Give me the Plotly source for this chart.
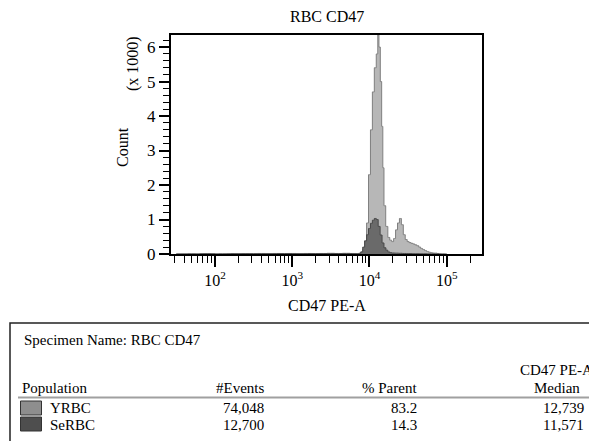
import plotly.graph_objects as go

# ---------------- data ----------------
# histogram bin centres (log10 of CD47 PE-A) and counts
yrbc_log = [1.5, 1.6, 1.7, 1.8, 1.9, 2.0, 2.1, 2.2, 2.3, 2.4, 2.5, 2.6, 2.7, 2.8, 2.9,
            3.0, 3.1, 3.2, 3.3, 3.4, 3.5, 3.6, 3.7, 3.8,
            3.850, 3.875, 3.900, 3.925, 3.950, 3.975, 4.000, 4.025, 4.050, 4.075,
            4.100, 4.115, 4.130, 4.150, 4.165, 4.180, 4.195, 4.225, 4.250, 4.275,
            4.300, 4.325, 4.350, 4.375, 4.400, 4.425, 4.450, 4.475, 4.500, 4.525,
            4.550, 4.575, 4.600, 4.625, 4.650, 4.675, 4.700, 4.725, 4.750, 4.775,
            4.800, 4.825, 4.850, 4.900, 4.950, 5.000]
yrbc_counts = [0, 0, 5, 0, 5, 0, 5, 10, 5, 10, 10, 15, 10, 15, 10,
               15, 10, 15, 10, 15, 20, 15, 20, 15,
               10, 25, 60, 140, 380, 900, 2300, 3600, 4700, 5400,
               5800, 6350, 6000, 5000, 3700, 2500, 1400, 800, 480, 400,
               360, 450, 700, 900, 1030, 850, 560, 420, 360, 330,
               310, 290, 265, 240, 200, 160, 130, 100, 75, 55,
               40, 30, 25, 15, 10, 5]

serbc_log = [1.5, 1.7, 1.9, 2.1, 2.3, 2.5, 2.7, 2.9, 3.1, 3.3, 3.5, 3.7,
             3.850, 3.875, 3.900, 3.925, 3.950, 3.975, 4.000, 4.025, 4.050,
             4.075, 4.100, 4.125, 4.150, 4.175, 4.200, 4.225, 4.250, 4.275,
             4.300, 4.350, 4.400, 4.450, 4.500, 4.600, 4.700, 4.800, 4.900]
serbc_counts = [0, 0, 5, 0, 5, 5, 5, 10, 5, 10, 10, 10,
                5, 15, 60, 200, 380, 560, 740, 890, 980,
                1030, 1000, 800, 550, 320, 180, 110, 60, 40,
                30, 25, 20, 15, 12, 8, 5, 3, 1]

# axis ticks
x_major = [1e2, 1e3, 1e4, 1e5]
x_major_text = ["10<sup>2</sup>", "10<sup>3</sup>", "10<sup>4</sup>", "10<sup>5</sup>"]
x_minor = [30, 40, 50, 60, 70, 80, 90,
           200, 300, 400, 500, 600, 700, 800, 900,
           2000, 3000, 4000, 5000, 6000, 7000, 8000, 9000,
           20000, 30000, 40000, 50000, 60000, 70000, 80000, 90000, 200000]
y_major = [0, 1000, 2000, 3000, 4000, 5000, 6000]
y_major_text = ["0", "1", "2", "3", "4", "5", "6"]
y_minor = [200, 400, 600, 800, 1200, 1400, 1600, 1800, 2200, 2400, 2600, 2800,
           3200, 3400, 3600, 3800, 4200, 4400, 4600, 4800, 5200, 5400, 5600, 5800, 6200]

# table
specimen = "Specimen Name: RBC CD47"
populations = ["YRBC", "SeRBC"]
events = ["74,048", "12,700"]
pct_parent = ["83.2", "14.3"]
medians = ["12,739", "11,571"]

# ---------------- styling ----------------
FONT = "Liberation Serif"
W, H = 589, 441
L, R, T, B = 171, 482, 35, 254
fill_colors = ["#b7b7b7", "#6a6a6a"]
line_colors = ["#7f7f7f", "#484848"]
swatch_colors = ["#8e8e8e", "#4e4e4e"]


def px(x):
    return (x - L) / (R - L)


def py(y):
    return (B - y) / (B - T)


fig = go.Figure()
fig.add_trace(go.Scatter(
    x=[10 ** v for v in yrbc_log], y=yrbc_counts, mode="lines",
    line=dict(shape="hvh", color=line_colors[0], width=1),
    fill="tozeroy", fillcolor=fill_colors[0], name=populations[0]))
fig.add_trace(go.Scatter(
    x=[10 ** v for v in serbc_log], y=serbc_counts, mode="lines",
    line=dict(shape="hvh", color=line_colors[1], width=1),
    fill="tozeroy", fillcolor=fill_colors[1], name=populations[1]))

fig.update_layout(
    width=W, height=H, autosize=False,
    margin=dict(l=L, r=W - R, t=T, b=H - B, pad=0),
    paper_bgcolor="white", plot_bgcolor="white",
    showlegend=False,
    font=dict(family=FONT, size=16, color="black"),
)

fig.update_xaxes(
    type="log", range=[1.4315, 5.456],
    showline=True, linecolor="black", linewidth=2, mirror=True,
    showgrid=False, zeroline=False,
    tickmode="array", tickvals=x_major, ticktext=x_major_text,
    ticks="outside", ticklen=11, tickwidth=1.5, tickcolor="black",
    tickfont=dict(family=FONT, size=16),
    minor=dict(tickmode="array", tickvals=x_minor, ticks="outside",
               ticklen=7, tickwidth=1.2, tickcolor="black", showgrid=False),
)
fig.update_yaxes(
    range=[0, 6350],
    showline=True, linecolor="black", linewidth=2, mirror=True,
    showgrid=False, zeroline=False,
    tickmode="array", tickvals=y_major, ticktext=y_major_text,
    ticks="outside", ticklen=10, tickwidth=1.5, tickcolor="black",
    tickfont=dict(family=FONT, size=17),
    minor=dict(tickmode="array", tickvals=y_minor, ticks="outside",
               ticklen=6, tickwidth=1.2, tickcolor="black", showgrid=False),
)

ann = []


def text(x, y, s, xanchor="left", size=16, angle=0):
    ann.append(dict(x=px(x), y=py(y), xref="paper", yref="paper", text=s,
                    showarrow=False, xanchor=xanchor, yanchor="middle",
                    textangle=angle, font=dict(family=FONT, size=size, color="black")))


# titles
text(326.5, 17, "RBC CD47", "center", 16)
text(326.5, 305, "CD47 PE-A", "center", 16)
text(122, 147, "Count", "center", 16, -90)
text(133, 64, "(x 1000)", "center", 16, -90)

# table text
text(22, 340, specimen, "left", 15)
text(20, 387.5, "Population", "left", 15)
text(266, 387.5, "#Events", "right", 15)
text(419, 387.5, "% Parent", "right", 15)
text(518, 370, "CD47 PE-A", "left", 15)
text(582, 388, "Median", "right", 15)
row_y = [408, 425]
for i in range(len(populations)):
    text(48, row_y[i], populations[i], "left", 15)
    text(266, row_y[i], events[i], "right", 15)
    text(419, row_y[i], pct_parent[i], "right", 15)
    text(586, row_y[i], medians[i], "right", 15)

shapes = [
    # table frame
    dict(type="rect", xref="paper", yref="paper", x0=px(10), x1=px(640),
         y0=py(323), y1=py(470), line=dict(color="#222222", width=1.5)),
    # header rule
    dict(type="line", xref="paper", yref="paper", x0=px(18), x1=px(640),
         y0=py(397.5), y1=py(397.5), line=dict(color="#a0a0a0", width=2)),
]
sw_y = [(401, 415), (417, 431)]
for i in range(len(populations)):
    shapes.append(dict(type="rect", xref="paper", yref="paper",
                       x0=px(20.5), x1=px(41.5), y0=py(sw_y[i][1]), y1=py(sw_y[i][0]),
                       fillcolor=swatch_colors[i], line=dict(color="#333333", width=1)))

fig.update_layout(annotations=ann, shapes=shapes)

fig.write_html("out.html", config={"displayModeBar": False},
               post_script="document.body.style.margin='0';document.body.style.overflow='hidden';")
